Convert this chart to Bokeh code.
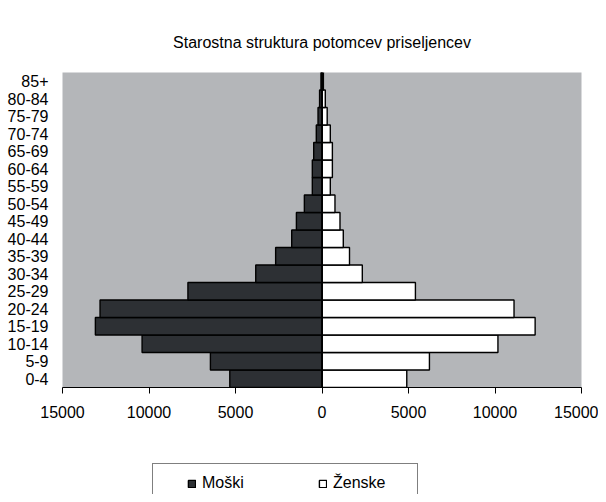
from bokeh.plotting import figure
from bokeh.layouts import column
from bokeh.models import (ColumnDataSource, FactorRange, Range1d, FixedTicker,
                          Span, Legend, LegendItem)
from bokeh.embed import file_html
from bokeh.resources import INLINE

# ---- data ----
age_groups = ["0-4", "5-9", "10-14", "15-19", "20-24", "25-29", "30-34", "35-39",
              "40-44", "45-49", "50-54", "55-59", "60-64", "65-69", "70-74",
              "75-79", "80-84", "85+"]
moski = [5330, 6450, 10400, 13100, 12830, 7750, 3830, 2680, 1750, 1480, 1020,
         560, 560, 480, 330, 230, 140, 60]
zenske = [4900, 6210, 10170, 12320, 11100, 5400, 2330, 1590, 1230, 1040, 750,
          480, 600, 600, 480, 300, 190, 80]
x_ticks = [-15000, -10000, -5000, 0, 5000, 10000, 15000]
x_tick_labels = ["15000", "10000", "5000", "0", "5000", "10000", "15000"]
title_text = "Starostna struktura potomcev priseljencev"
legend_labels = ["Moški", "Ženske"]

FONT = "Liberation Sans"
DARK = "#2d3034"

src = ColumnDataSource(dict(
    age=age_groups,
    m_left=[-v for v in moski],
    f_right=zenske,
    zero=[0] * len(age_groups),
))

p = figure(width=598, height=455, output_backend="svg", toolbar_location=None,
           y_range=FactorRange(*age_groups, range_padding=0),
           x_range=Range1d(-15000, 15000),
           min_border_left=62, min_border_right=17, min_border_top=72,
           min_border_bottom=68)

p.background_fill_color = "#b4b6b9"
p.border_fill_color = "white"
p.outline_line_color = None
p.grid.visible = False

p.hbar(y="age", left="m_left", right="zero", height=1.0, source=src,
       fill_color=DARK, line_color="black", line_width=1.4)
p.hbar(y="age", left="zero", right="f_right", height=1.0, source=src,
       fill_color="white", line_color="black", line_width=1.4)

p.add_layout(Span(location=0, dimension="height", line_color="black",
                  line_width=2))

# x axis
xa = p.xaxis[0]
xa.ticker = FixedTicker(ticks=x_ticks)
xa.major_label_overrides = {t: l for t, l in zip(x_ticks, x_tick_labels)}
xa.minor_tick_line_color = None
xa.major_tick_in = 0
xa.major_tick_out = 6
xa.axis_line_color = "black"
xa.major_tick_line_color = "black"
xa.major_label_text_font = FONT
xa.major_label_text_font_size = "16px"
xa.major_label_text_color = "black"
xa.major_label_standoff = 12

# y axis
ya = p.yaxis[0]
ya.axis_line_color = None
ya.major_tick_line_color = None
ya.minor_tick_line_color = None
ya.major_tick_out = 0
ya.major_tick_in = 0
ya.major_label_text_font = FONT
ya.major_label_text_font_size = "16px"
ya.major_label_text_color = "black"
ya.major_label_standoff = 14

# title
p.title.text = title_text
p.title.align = "center"
p.title.text_font = FONT
p.title.text_font_size = "16px"
p.title.text_font_style = "normal"
p.title.text_color = "black"
p.title.standoff = 43
p.title.offset = -2

# ---- legend strip below the chart ----
p2 = figure(width=598, height=39, output_backend="svg", toolbar_location=None,
            x_range=Range1d(0, 1), y_range=Range1d(0, 1),
            min_border_left=0, min_border_right=0, min_border_top=0,
            min_border_bottom=0)
p2.axis.visible = False
p2.grid.visible = False
p2.outline_line_color = None
p2.background_fill_color = "white"
p2.border_fill_color = "white"

# legend swatches only: a tiny mark hidden under the legend box
swatch = ColumnDataSource(dict(y=[0.4], left=[0.4], right=[0.41]))
lm = p2.hbar(y="y", left="left", right="right", height=0.05, source=swatch,
             fill_color=DARK, line_color="black", line_width=1.4)
lf = p2.hbar(y="y", left="left", right="right", height=0.05, source=swatch,
             fill_color="white", line_color="black", line_width=1.4)

legend = Legend(items=[LegendItem(label=legend_labels[0], renderers=[lm]),
                       LegendItem(label=legend_labels[1], renderers=[lf])],
                orientation="horizontal", location=(90, -9))
legend.title = " "
legend.title_location = "left"
legend.title_text_font_size = "2px"
legend.title_standoff = 22
legend.margin = 0
legend.padding = 10
legend.spacing = 42
legend.label_width = 74
legend.glyph_width = 9
legend.glyph_height = 9
legend.label_standoff = 6
legend.label_text_font = FONT
legend.label_text_font_size = "16px"
legend.label_text_color = "black"
legend.border_line_color = "black"
legend.border_line_width = 1.4
legend.background_fill_color = "white"
legend.background_fill_alpha = 1
p2.add_layout(legend, "center")

layout = column(p, p2, spacing=0)

open("out.html", "w").write(file_html(layout, INLINE))
